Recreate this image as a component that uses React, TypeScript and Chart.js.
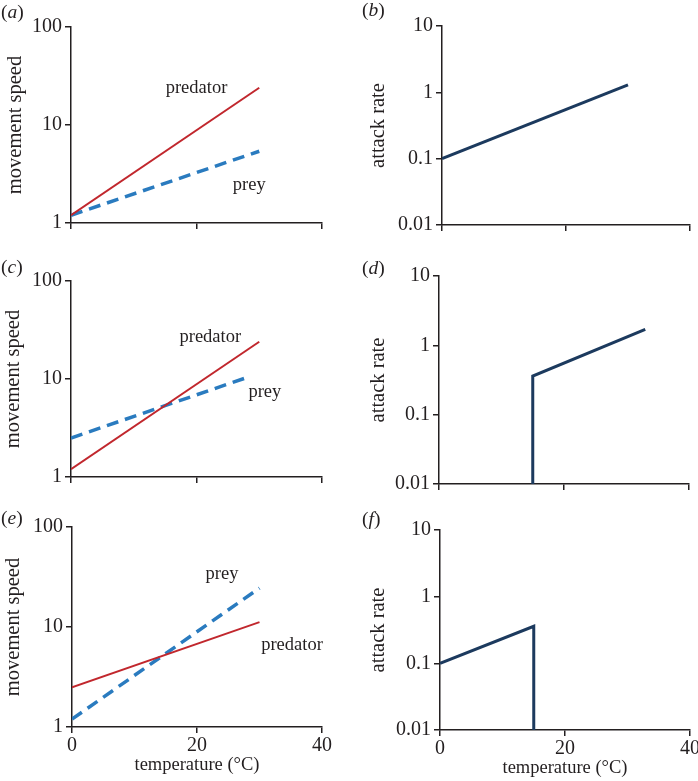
import React, { useEffect, useRef } from "react";
import { Chart, registerables } from "chart.js";

Chart.register(...registerables);

const FONT = '"Liberation Serif", "Times New Roman", serif';
const INK = "#231f20";
const RED = "#c1272d";
const BLUE = "#2a7bbf";
const NAVY = "#1c3a5e";

// ---- axes ----
const xTicks = [0, 20, 40];
const xTickLabels = ["0", "20", "40"];
const speedTicks = [1, 10, 100];
const speedTickLabels = ["1", "10", "100"];
const rateTicks = [0.01, 0.1, 1, 10];
const rateTickLabels = ["0.01", "0.1", "1", "10"];

// ---- panel (a) ----
const tempA = [0, 30];
const predatorA = [1.2, 24];
const preyA = [1.2, 5.4];
const labelTextA = ["predator", "prey"];
const labelXA = [20, 28.4];
const labelYA = [24, 2.44];

// ---- panel (b) ----
const tempB = [0, 30];
const attackB = [0.1, 1.3];

// ---- panel (c) ----
const tempPredC = [0, 30];
const predatorC = [1.2, 24];
const tempPreyC = [0, 28.5];
const preyC = [2.5, 10.6];
const labelTextC = ["predator", "prey"];
const labelXC = [22.2, 30.9];
const labelYC = [26.8, 7.4];

// ---- panel (d) ----
const tempD = [15, 15, 33];
const attackD = [0.01, 0.36, 1.7];

// ---- panel (e) ----
const tempE = [0, 30];
const predatorE = [2.5, 11.2];
const preyE = [1.2, 24.5];
const labelTextE = ["prey", "predator"];
const labelXE = [24, 35.2];
const labelYE = [33.9, 6.6];

// ---- panel (f) ----
const tempF = [0, 15, 15];
const attackF = [0.1, 0.36, 0.01];

const pts = (xs: number[], ys: number[]) => xs.map((x, i) => ({ x, y: ys[i] }));

const predatorStyle = { borderColor: RED, borderWidth: 2 };
const preyStyle = { borderColor: BLUE, borderWidth: 3.5, borderDash: [12, 7] };
const rateStyle = { borderColor: NAVY, borderWidth: 3 };

type Spec = {
  tag: string;
  box: { left: number; top: number; width: number; height: number };
  area: { left: number; top: number; right: number; bottom: number };
  kind: "speed" | "rate";
  showX: boolean;
  yTitlePad: number;
  datasets: any[];
  labels: { text: string; x: number; y: number }[];
  tagPos: { left: number; top: number };
};

const mkLabels = (t: string[], xs: number[], ys: number[]) =>
  t.map((text, i) => ({ text, x: xs[i], y: ys[i] }));

const specs: Spec[] = [
  {
    tag: "a",
    box: { left: 0, top: 0, width: 349, height: 255 },
    area: { left: 71, top: 27, right: 322, bottom: 223 },
    kind: "speed",
    showX: false,
    yTitlePad: 3,
    datasets: [
      { data: pts(tempA, predatorA), ...predatorStyle },
      { data: pts(tempA, preyA), ...preyStyle },
    ],
    labels: mkLabels(labelTextA, labelXA, labelYA),
    tagPos: { left: 1, top: 2 },
  },
  {
    tag: "b",
    box: { left: 349, top: 0, width: 349, height: 255 },
    area: { left: 442, top: 26, right: 690, bottom: 225 },
    kind: "rate",
    showX: false,
    yTitlePad: 17,
    datasets: [{ data: pts(tempB, attackB), ...rateStyle }],
    labels: [],
    tagPos: { left: 362, top: 0 },
  },
  {
    tag: "c",
    box: { left: 0, top: 255, width: 349, height: 255 },
    area: { left: 71, top: 281, right: 322, bottom: 477 },
    kind: "speed",
    showX: false,
    yTitlePad: 1,
    datasets: [
      { data: pts(tempPredC, predatorC), ...predatorStyle },
      { data: pts(tempPreyC, preyC), ...preyStyle },
    ],
    labels: mkLabels(labelTextC, labelXC, labelYC),
    tagPos: { left: 1, top: 257 },
  },
  {
    tag: "d",
    box: { left: 349, top: 255, width: 349, height: 255 },
    area: { left: 439, top: 276, right: 689, bottom: 484 },
    kind: "rate",
    showX: false,
    yTitlePad: 17,
    datasets: [{ data: pts(tempD, attackD), ...rateStyle }],
    labels: [],
    tagPos: { left: 362, top: 258 },
  },
  {
    tag: "e",
    box: { left: 0, top: 510, width: 349, height: 271 },
    area: { left: 72, top: 527, right: 322, bottom: 727 },
    kind: "speed",
    showX: true,
    yTitlePad: 1,
    datasets: [
      { data: pts(tempE, predatorE), ...predatorStyle },
      { data: pts(tempE, preyE), ...preyStyle },
    ],
    labels: mkLabels(labelTextE, labelXE, labelYE),
    tagPos: { left: 1, top: 508 },
  },
  {
    tag: "f",
    box: { left: 349, top: 510, width: 349, height: 271 },
    area: { left: 440, top: 530, right: 690, bottom: 730 },
    kind: "rate",
    showX: true,
    yTitlePad: 17,
    datasets: [{ data: pts(tempF, attackF), ...rateStyle }],
    labels: [],
    tagPos: { left: 362, top: 509 },
  },
];

const labelPlugin = {
  id: "seriesLabels",
  afterDatasetsDraw(chart: any, _args: any, opts: any) {
    const { ctx, scales } = chart;
    const items = (opts && opts.items) || [];
    ctx.save();
    ctx.font = `18.5px ${FONT}`;
    ctx.fillStyle = INK;
    ctx.textAlign = "center";
    ctx.textBaseline = "middle";
    for (const l of items) {
      ctx.fillText(l.text, scales.x.getPixelForValue(l.x), scales.y.getPixelForValue(l.y));
    }
    ctx.restore();
  },
};

function Panel({ spec }: { spec: Spec }) {
  const ref = useRef<HTMLCanvasElement | null>(null);
  useEffect(() => {
    const canvas = ref.current;
    if (!canvas) return;
    const { box, area } = spec;
    const W = area.left - box.left;
    const H = spec.showX ? 50 : 10;
    const padTop = area.top - box.top;
    const padRight = box.left + box.width - area.right;
    const padBottom = box.top + box.height - area.bottom - H;
    const yT = spec.kind === "speed" ? speedTicks : rateTicks;
    const yL = spec.kind === "speed" ? speedTickLabels : rateTickLabels;
    const gridOpts = {
      drawOnChartArea: false,
      drawTicks: true,
      tickLength: 6,
      color: INK,
      lineWidth: 1.5,
    };
    const borderOpts = { display: true, color: INK, width: 1.5 };
    const chart = new Chart(canvas, {
      type: "line",
      data: {
        datasets: spec.datasets.map((d) => ({
          ...d,
          pointRadius: 0,
          fill: false,
          tension: 0,
        })),
      },
      plugins: [labelPlugin],
      options: {
        animation: false,
        responsive: false,
        events: [],
        layout: { padding: { left: 0, top: padTop, right: padRight, bottom: padBottom } },
        plugins: {
          legend: { display: false },
          tooltip: { enabled: false },
          seriesLabels: { items: spec.labels },
        } as any,
        scales: {
          x: {
            type: "linear",
            min: 0,
            max: 40,
            afterBuildTicks: (ax: any) => {
              ax.ticks = xTicks.map((v) => ({ value: v }));
            },
            afterFit: (ax: any) => {
              ax.height = H;
              ax.paddingLeft = 0;
              ax.paddingRight = 0;
            },
            grid: gridOpts,
            border: borderOpts,
            ticks: {
              display: spec.showX,
              autoSkip: false,
              maxRotation: 0,
              padding: 1,
              color: INK,
              font: { family: FONT, size: 20 },
              callback: (_v: any, i: number) => xTickLabels[i],
            },
            title: {
              display: spec.showX,
              text: "temperature (°C)",
              color: INK,
              font: { family: FONT, size: 18.5 },
              padding: { top: 0, bottom: 1 },
            },
          },
          y: {
            type: "logarithmic",
            min: yT[0],
            max: yT[yT.length - 1],
            afterBuildTicks: (ax: any) => {
              ax.ticks = yT.map((v) => ({ value: v }));
            },
            afterFit: (ax: any) => {
              ax.width = W;
              ax.paddingTop = 0;
              ax.paddingBottom = 0;
            },
            grid: gridOpts,
            border: borderOpts,
            ticks: {
              autoSkip: false,
              padding: 3,
              color: INK,
              font: { family: FONT, size: 20 },
              callback: (_v: any, i: number) => yL[i],
            },
            title: {
              display: true,
              text: spec.kind === "speed" ? "movement speed" : "attack rate",
              color: INK,
              font: { family: FONT, size: 20.5 },
              padding: { top: spec.yTitlePad, bottom: 0 },
            },
          },
        },
      } as any,
    });
    return () => chart.destroy();
  }, [spec]);

  return (
    <canvas
      ref={ref}
      width={spec.box.width}
      height={spec.box.height}
      style={{
        position: "absolute",
        left: spec.box.left,
        top: spec.box.top,
        width: spec.box.width,
        height: spec.box.height,
      }}
    />
  );
}

export default function App() {
  return (
    <div
      style={{
        position: "absolute",
        left: 0,
        top: 0,
        width: 698,
        height: 781,
        background: "#ffffff",
        overflow: "hidden",
      }}
    >
      {specs.map((s) => (
        <Panel key={s.tag} spec={s} />
      ))}
      {specs.map((s) => (
        <span
          key={"t" + s.tag}
          style={{
            position: "absolute",
            left: s.tagPos.left,
            top: s.tagPos.top,
            fontFamily: FONT,
            fontSize: 19.5,
            lineHeight: 1,
            color: INK,
            whiteSpace: "nowrap",
          }}
        >
          (<i>{s.tag}</i>)
        </span>
      ))}
    </div>
  );
}
